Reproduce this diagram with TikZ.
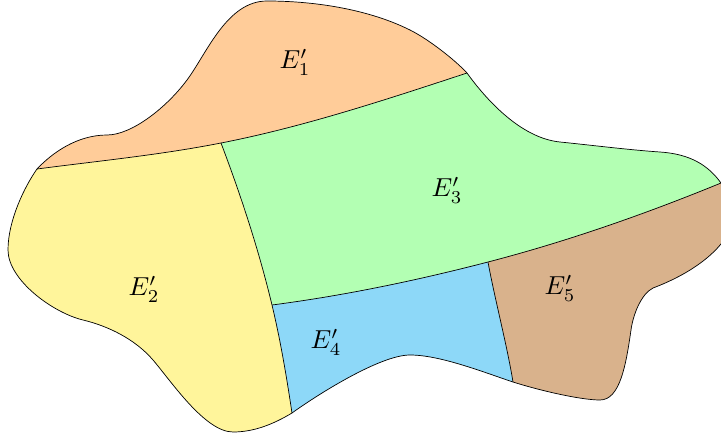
\documentclass[tikz,border=0pt]{standalone}
\usepackage{graphicx}
\definecolor{cOne}{RGB}{255,204,153}
\definecolor{cTwo}{RGB}{255,245,155}
\definecolor{cThree}{RGB}{179,255,179}
\definecolor{cFour}{RGB}{141,216,248}
\definecolor{cFive}{RGB}{217,178,140}
% outer boundary pieces (no start point)
\def\segAB{.. controls (52,153) and (77,135) .. (107,135) .. controls (132,135) and (167,107) .. (187,80) .. controls (207,53) and (227,1) .. (267,1) .. controls (317,1) and (370,10) .. (410,30) .. controls (429,39.5) and (455,60) .. (B)}
\def\segBC{.. controls (485,98) and (520,138) .. (560,142) .. controls (590,145) and (630,150) .. (660,152) .. controls (690,154) and (708,165) .. (C)}
\def\segCD{.. controls (755,215) and (722,262) .. (653,288) .. controls (641,294) and (633,315) .. (631,330) .. controls (626,365) and (620,400) .. (600,400) .. controls (580,400) and (538,390) .. (D)}
\def\segDE{.. controls (483,372) and (440,355) .. (410,355) .. controls (380,355) and (317,395) .. (E)}
\def\segEA{.. controls (272,425) and (253,432) .. (233,432) .. controls (205,432) and (171,381) .. (153,360) .. controls (135,339) and (108,326) .. (83,320) .. controls (53,312.8) and (8,280) .. (8,250) .. controls (8,220) and (25,186) .. (A)}
% inner curves, forward and reversed
\def\cAF{.. controls (98,161) and (160,155) .. (F)}
\def\cFA{.. controls (160,155) and (98,161) .. (A)}
\def\cFB{.. controls (303,127) and (385,100) .. (B)}
\def\cBF{.. controls (385,100) and (303,127) .. (F)}
\def\cFG{.. controls (241.5,197) and (259,251) .. (G)}
\def\cGF{.. controls (259,251) and (241.5,197) .. (F)}
\def\cGE{.. controls (280.6,341) and (286.6,377) .. (E)}
\def\cEG{.. controls (286.6,377) and (280.6,341) .. (G)}
\def\cGH{.. controls (344,295.6) and (416,280.7) .. (H)}
\def\cHG{.. controls (416,280.7) and (344,295.6) .. (G)}
\def\cHC{.. controls (565,242) and (643,215) .. (C)}
\def\cCH{.. controls (643,215) and (565,242) .. (H)}
\def\cHD{.. controls (495,300) and (507,345) .. (D)}
\def\cDH{.. controls (507,345) and (495,300) .. (H)}
\newcommand{\bigE}[1]{\scalebox{2.6}{$E'_{#1}$}}
\tikzset{
  edgeline/.style={draw=black, line width=0.7pt},
  lbl/.style={inner sep=0pt}
}
\begin{document}
\begin{tikzpicture}[x=1pt,y=-1pt]
\useasboundingbox (0,0) rectangle (721,439);
\clip (0,0) rectangle (721,439);
\coordinate (A) at (37,169);
\coordinate (B) at (467,73);
\coordinate (C) at (721,183);
\coordinate (D) at (513,382);
\coordinate (E) at (292,413);
\coordinate (F) at (221,143);
\coordinate (G) at (272,305);
\coordinate (H) at (488,262);
% region fills
\fill[cOne] (A) \segAB \cBF \cFA -- cycle;
\fill[cTwo] (A) \cAF \cFG \cGE \segEA -- cycle;
\fill[cThree] (F) \cFB \segBC \cCH \cHG \cGF -- cycle;
\fill[cFour] (G) \cGH \cHD \segDE \cEG -- cycle;
\fill[cFive] (H) \cHC \segCD \cDH -- cycle;
% inner curves
\draw[edgeline] (A) \cAF \cFB;
\draw[edgeline] (F) \cFG \cGE;
\draw[edgeline] (G) \cGH \cHC;
\draw[edgeline] (H) \cHD;
% outline
\draw[edgeline] (A) \segAB \segBC \segCD \segDE \segEA -- cycle;
% labels
\node[lbl] (l1) at (295,62) {\bigE{1}};
\node[lbl] (l2) at (144,289) {\bigE{2}};
\node[lbl] (l3) at (447,190) {\bigE{3}};
\node[lbl] (l4) at (326,342) {\bigE{4}};
\node[lbl] (l5) at (560,288) {\bigE{5}};
\end{tikzpicture}
\end{document}
